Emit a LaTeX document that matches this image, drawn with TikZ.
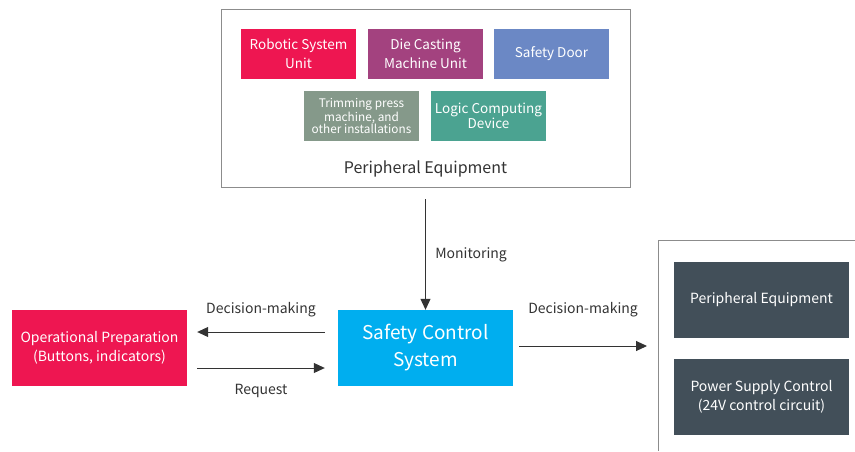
\documentclass[tikz,border=0pt]{standalone}
\usepackage{fontspec}
\setmainfont{Noto Sans CJK SC}
\usetikzlibrary{arrows.meta}
\definecolor{crimson}{HTML}{EE1651}
\definecolor{plum}{HTML}{A3427F}
\definecolor{steelblue}{HTML}{6B88C5}
\definecolor{sage}{HTML}{85998A}
\definecolor{teal}{HTML}{4BA391}
\definecolor{sky}{HTML}{00AEEF}
\definecolor{slate}{HTML}{424F59}
\definecolor{frame}{HTML}{8C8C8C}
\definecolor{ink}{HTML}{333333}
\begin{document}
\begin{tikzpicture}[x=1pt, y=-1pt,
    unit/.style={minimum width=115pt, minimum height=50pt, inner sep=1pt, text=white, align=center, font=\fontsize{13.5}{19}\selectfont},
    bigunit/.style={minimum width=175pt, minimum height=76pt, inner sep=1pt, text=white, align=center, font=\fontsize{14}{18.5}\selectfont},
    lbl/.style={text=ink, font=\fontsize{14}{16}\selectfont},
    arr/.style={-{Triangle[length=11pt, width=10pt]}, line width=1pt, draw=ink}]
            \useasboundingbox (0, 0) rectangle (855, 451);
            % peripheral equipment group
            \draw[frame, line width=1pt](221, 9) rectangle (630, 187);
            \node[unit, fill=crimson](robot) at (298.5, 54){Robotic System\\Unit};
            \node[unit, fill=plum](die) at (425.5, 54){Die Casting\\Machine Unit};
            \node[unit, fill=steelblue](door) at (551.5, 54){Safety Door};
            \node[unit, fill=sage, font=\fontsize{11.8}{12}\selectfont](trim) at (361.5, 116){Trimming press\\machine, and\\other installations};
            \node[unit, fill=teal, font=\fontsize{13.5}{13}\selectfont](logic) at (488.5, 116){Logic Computing\\Device};
            \node[lbl, font=\fontsize{16}{18}\selectfont](peri) at (425.5, 168.5){Peripheral Equipment};
            \coordinate (monstart) at (425.5, 199);
            % controller
            \node[bigunit, fill=sky, font=\fontsize{19}{27}\selectfont](scs) at (425.5, 348){Safety Control\\System};
            \node[bigunit, fill=crimson](prep) at (99.5, 348){Operational Preparation\\(Buttons, indicators)};
            \draw[arr](monstart)--(scs.north)node[lbl, midway, right=6pt]{Monitoring};
            \draw[arr]([xshift=-13, yshift=16]scs.west)--([xshift=10, yshift=16]prep.east)node[lbl, midway, above=11pt]{Decision-making};
            \draw[arr]([xshift=10, yshift=-20]prep.east)--([xshift=-13, yshift=-20]scs.west)node[lbl, midway, below=12pt]{Request};
            % outputs
            \draw[frame, line width=1pt](855, 240)--(658, 240)--(658, 451);
            \node[bigunit, fill=slate](periout) at (761.5, 300){Peripheral Equipment};
            \node[bigunit, fill=slate](power) at (761.5, 397){Power Supply Control\\(24V control circuit)};
            \coordinate (outend) at (647, 346);
            \draw[arr]([xshift=6, yshift=2]scs.east)--(outend)node[lbl, midway, above=25pt]{Decision-making};
        \end{tikzpicture}
\end{document}
